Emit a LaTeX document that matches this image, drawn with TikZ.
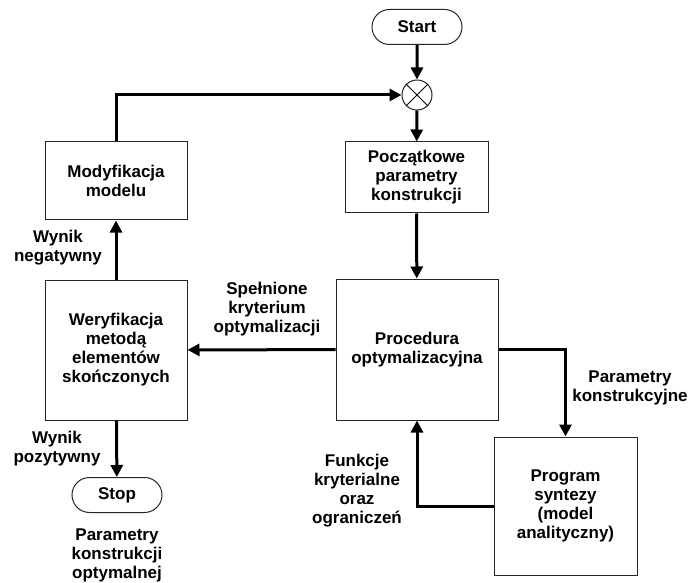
\documentclass[tikz,border=0pt]{standalone}
\usepackage{fontspec}
\setmainfont{Liberation Sans}
\usetikzlibrary{arrows.meta}
\usetikzlibrary{shapes.misc,positioning}

\begin{document}
\begin{tikzpicture}[x=1pt,y=-1pt,
	font=\fontsize{17}{19}\selectfont\bfseries,
	box/.style={draw=black!85, line width=1pt, rectangle, align=center, inner sep=0pt},
	term/.style={draw=black!85, line width=1pt, rounded rectangle, minimum width=90pt, minimum height=35pt, inner sep=0pt},
	lbl/.style={align=center, inner sep=0pt},
	flow/.style={line width=3pt, -{Triangle[length=12pt,width=12pt]}}]
	\useasboundingbox (0,0) rectangle (694,583);
	%\draw[help lines,step=50pt] (0,0) grid (694,583);

	\node[term] (start) at (417,27) {Start};
	\node[draw=black!85, line width=1pt, circle, minimum size=30pt, inner sep=0pt] (sum) at (417,95) {};
	\draw[line width=0.8pt] (sum.north west) -- (sum.south east);
	\draw[line width=0.8pt] (sum.north east) -- (sum.south west);

	\node[box, minimum width=143pt, minimum height=71pt] (poc) at (416.5,177.5) {Początkowe\\parametry\\konstrukcji};
	\node[box, minimum width=162pt, minimum height=141pt] (proc) at (417,349.5) {Procedura\\optymalizacyjna};
	\node[box, minimum width=143pt, minimum height=138pt] (prog) at (565.5,506) {Program\\syntezy\\(model\\analityczny)};
	\node[box, minimum width=142pt, minimum height=140pt] (wer) at (116,350) {Weryfikacja\\metodą\\elementów\\skończonych};
	\node[box, minimum width=142pt, minimum height=78pt] (mod) at (116,181) {Modyfikacja\\modelu};
	\node[term] (stop) at (117,495) {Stop};

	\draw[flow] (start) -- (sum);
	\draw[flow] (sum) -- (poc);
	\draw[flow] (poc) -- (proc);
	\draw[flow] (proc) -- (wer);
	\draw[flow] (proc.east) -| (prog.north);
	\draw[flow] (prog.west) -| (proc.south);
	\draw[flow] (wer) -- (mod);
	\draw[flow] (mod.north) |- (sum.west);
	\draw[flow] (wer) -- (stop);

	\node[lbl] (neg) at (58,248) {Wynik\\negatywny};
	\node[lbl] (speln) at (267,309) {Spełnione\\kryterium\\optymalizacji};
	\node[lbl] (parkon) at (630,388) {Parametry\\konstrukcyjne};
	\node[lbl] (funk) at (357,491) {Funkcje\\kryterialne\\oraz\\ograniczeń};
	\node[lbl] (poz) at (57,449) {Wynik\\pozytywny};
	\node[lbl] (opt) at (117,555) {Parametry\\konstrukcji\\optymalnej};
\end{tikzpicture}
\end{document}
